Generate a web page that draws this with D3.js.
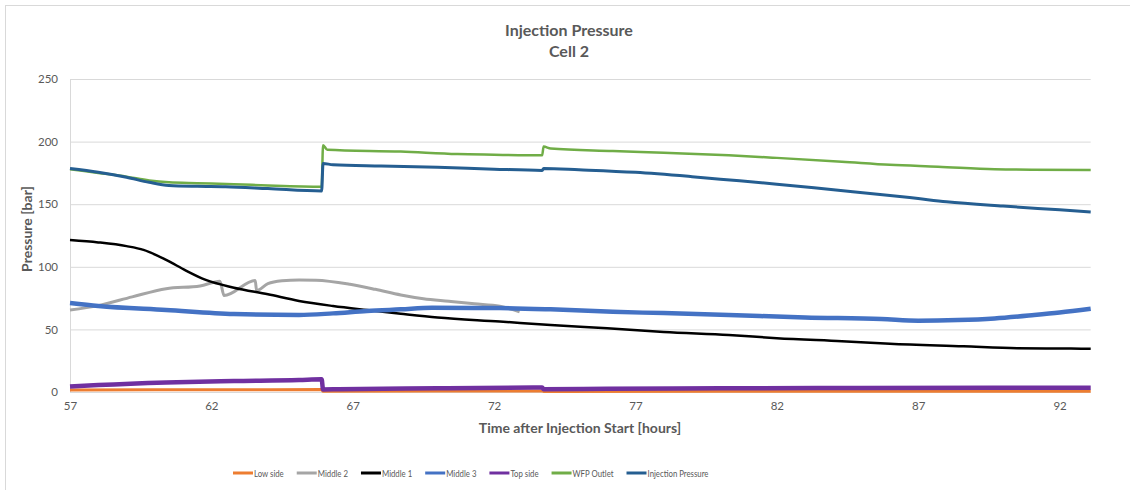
<!DOCTYPE html>
<html>
<head>
<meta charset="utf-8">
<script src="https://cdn.jsdelivr.net/npm/d3@7"></script>
<style>
  body { margin: 0; background: #fff; }
  text { font-family: Lato, "Open Sans", sans-serif; }
</style>
</head>
<body>
<div id="svgContainer"></div>
<script>
const width = 1130;
const height = 490;

// [hour, bar] readings per sensor
const lowSide = [[57,1.5],[60,1.7],[63,1.8],[65.9,1.9],[65.95,0.6],[70,0.7],[73.7,0.8],[73.75,0.4],[80,0.5],[87,0.6],[93.1,0.6]];
const middle2 = [[57,65.5],[58,69],[59.2,76],[60.4,82.5],[61.6,84.7],[62.3,88.5],[62.45,77],[63.55,89],[63.6,81],[64,86.5],[64.5,88.8],[65.1,89.5],[65.7,89.3],[66.9,86],[67.8,82],[68.7,77.5],[69.5,74.5],[70.4,72.5],[71.3,70.5],[72.2,68.5],[72.9,64]];
const middle1 = [[57,121.4],[58,119.5],[59,116.5],[59.6,113.5],[60.4,105.5],[61.1,97],[61.8,89.5],[62.8,83.3],[64,78],[65.1,72.7],[66.3,68.7],[67.5,65.5],[68.7,62.5],[70,59.5],[72.2,56.3],[74,53.5],[76,51],[78,48],[80.3,45.5],[82,43],[84.3,40.5],[86,38.5],[88.6,36.5],[90.5,35],[92.4,34.7],[93.1,34.5]];
const middle3 = [[57,71],[58,68.7],[60.4,65.5],[62.8,62.3],[65.1,61.5],[66.3,62.8],[67.5,64.7],[68.7,66],[69.8,67.2],[72.2,67],[74,66],[76.2,64],[78,63],[80.3,61.5],[83,59.5],[85.7,58.3],[87,57],[88.4,57.5],[89.7,58.8],[91.1,61.5],[92,63.5],[93.1,66.5]];
const topSide = [[57,4.3],[58,5.5],[60.4,7.6],[62.8,8.8],[65.1,9.6],[65.9,10.2],[65.95,2],[66.5,2.2],[70,3],[73.7,3.6],[73.75,2.2],[76,2.6],[80,3],[85,3.2],[90,3.3],[93.1,3.3]];
const wfpOutlet = [[57,178],[58,175],[59,172],[59.8,169],[60.5,167.5],[61.5,166.8],[62.8,166],[64,165],[65.9,164],[65.95,197],[66.1,193.5],[68.7,192],[70.7,190],[72,189.5],[73.7,189],[73.75,196],[74,194.5],[76.2,192.5],[78,191],[80.3,189],[82,187],[84.3,184],[86,181.5],[87.7,180],[89.7,178],[91,177.5],[93.1,177.3]];
const injection = [[57,178.5],[58,175.5],[59,171.5],[59.8,167.5],[60.5,165],[61.5,164.3],[62.5,164],[64,162.5],[65.9,160.5],[65.95,182.5],[66.3,181.5],[68,180.5],[70,179.5],[72,178],[73.7,177],[73.75,178.5],[75,177.5],[77,175.5],[79,172],[80,170],[82,166],[84,161.5],[86,157],[87,154.5],[88,152],[90,148.5],[92,145.5],[93.1,143.8]];

const seriesNames = ["Low side", "Middle 2", "Middle 1", "Middle 3", "Top side", "WFP Outlet", "Injection Pressure"];
const seriesData = [lowSide, middle2, middle1, middle3, topSide, wfpOutlet, injection];
const seriesColors = ["#ED7D31", "#A5A5A5", "#000000", "#4472C4", "#7030A0", "#70AD47", "#255E91"];
const seriesWidths = [3, 3, 2.5, 4.5, 4.5, 2.5, 3];

const xTicks = [57, 62, 67, 72, 77, 82, 87, 92];
const yTicks = [0, 50, 100, 150, 200, 250];

const margin = ({top: 79, right: 39.3, bottom: 98, left: 70});
const textGray = "#595959";
const gridGray = "#d9d9d9";

const svg = d3.select("#svgContainer").append("svg")
  .attr("width", width)
  .attr("height", height);

// chart area border (cut off at right/bottom in the original)
svg.append("rect")
  .attr("x", 5.5).attr("y", 5.5)
  .attr("width", width + 20).attr("height", height + 20)
  .attr("fill", "none")
  .attr("stroke", gridGray);

const x = d3.scaleLinear()
  .domain([57, 93.1])
  .range([margin.left, width - margin.right]);

const y = d3.scaleLinear()
  .domain([0, 250])
  .range([height - margin.bottom, margin.top]);

// gridlines + y labels
const yAxis = g => g
  .attr("transform", `translate(${margin.left},0)`)
  .call(d3.axisLeft(y).tickValues(yTicks).tickSize(-(x.range()[1] - margin.left)).tickPadding(12))
  .call(g => g.select(".domain").remove())
  .call(g => g.selectAll(".tick line").attr("stroke", gridGray))
  .call(g => g.selectAll(".tick text").attr("fill", textGray).attr("font-size", 11.5).attr("font-family", "Lato"));

svg.append("g").call(yAxis);

// left edge of the plot area
svg.append("line")
  .attr("x1", margin.left + 0.5).attr("x2", margin.left + 0.5)
  .attr("y1", y(250)).attr("y2", y(0))
  .attr("stroke", gridGray);

const xAxis = g => g
  .attr("transform", `translate(0,${y(0)})`)
  .call(d3.axisBottom(x).tickValues(xTicks).tickSize(0).tickPadding(10))
  .call(g => g.select(".domain").remove())
  .call(g => g.selectAll(".tick text").attr("fill", textGray).attr("font-size", 11.5).attr("font-family", "Lato"));

svg.append("g").call(xAxis);

const line = d3.line()
  .curve(d3.curveMonotoneX)
  .x(d => x(d[0]))
  .y(d => y(d[1]));

// draw order: later series on top
seriesData.forEach((d, i) => {
  svg.append("path")
    .datum(d)
    .attr("fill", "none")
    .attr("stroke", seriesColors[i])
    .attr("stroke-width", seriesWidths[i])
    .attr("stroke-linejoin", "round")
    .attr("d", line);
});

// titles
svg.append("text")
  .attr("x", 569).attr("y", 36)
  .attr("text-anchor", "middle")
  .attr("font-weight", "bold").attr("font-size", 16)
  .attr("fill", textGray)
  .text("Injection Pressure");

svg.append("text")
  .attr("x", 569).attr("y", 57)
  .attr("text-anchor", "middle")
  .attr("font-weight", "bold").attr("font-size", 16)
  .attr("fill", textGray)
  .text("Cell 2");

svg.append("text")
  .attr("x", 580).attr("y", 433)
  .attr("text-anchor", "middle")
  .attr("font-weight", "bold").attr("font-size", 14)
  .attr("fill", textGray)
  .text("Time after Injection Start [hours]");

svg.append("text")
  .attr("transform", "translate(32,229) rotate(-90)")
  .attr("text-anchor", "middle")
  .attr("font-weight", "bold").attr("font-size", 14)
  .attr("fill", textGray)
  .text("Pressure [bar]");

// legend (text is narrow in the original, so squeeze it horizontally)
const squeeze = 0.78;
const legend = svg.append("g").attr("transform", "translate(233,473)");
let lx = 0;
seriesNames.forEach((name, i) => {
  const item = legend.append("g").attr("transform", `translate(${lx},0)`);
  item.append("line")
    .attr("x1", 0).attr("x2", 20)
    .attr("stroke", seriesColors[i])
    .attr("stroke-width", 3);
  const t = item.append("text")
    .attr("transform", `translate(21,3.5) scale(${squeeze},1)`)
    .attr("font-size", 10)
    .attr("fill", textGray)
    .text(name);
  lx += 21 + t.node().getComputedTextLength() * squeeze + 13;
});
</script>
</body>
</html>
